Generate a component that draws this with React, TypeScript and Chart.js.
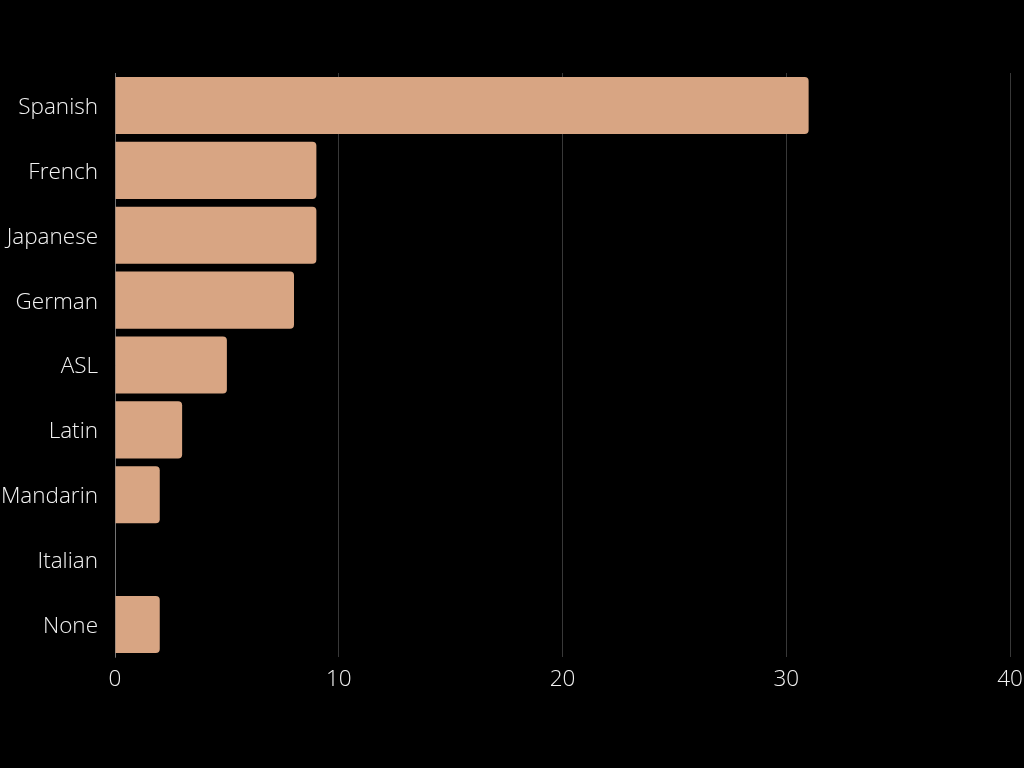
import React, { useEffect, useRef } from "react";
import { Chart, registerables } from "chart.js";

Chart.register(...registerables);

const categories = ["Spanish", "French", "Japanese", "German", "ASL", "Latin", "Mandarin", "Italian", "None"];
const counts = [31, 9, 9, 8, 5, 3, 2, 0, 2];
const xTicks = [0, 10, 20, 30, 40];

export default function App() {
  const ref = useRef<HTMLCanvasElement | null>(null);
  useEffect(() => {
    document.body.style.margin = "0";
    document.body.style.background = "#000";
    const ctx = ref.current!.getContext("2d")!;
    const font = { family: "'Open Sans'", size: 22.5, weight: 300 as any };
    const zeroPad = (s: any) => {
      s.paddingLeft = 0;
      s.paddingRight = 0;
      s.paddingTop = 0;
      s.paddingBottom = 0;
    };
    const chart = new Chart(ctx, {
      type: "bar",
      data: {
        labels: categories,
        datasets: [
          {
            data: counts,
            backgroundColor: "#D8A583",
            borderRadius: 4,
            borderSkipped: "start",
            barPercentage: 0.88,
            categoryPercentage: 1,
          },
        ],
      },
      options: {
        indexAxis: "y",
        animation: false,
        responsive: false,
        maintainAspectRatio: false,
        layout: { padding: { top: 73, right: 14, bottom: 0, left: 0 } },
        plugins: { legend: { display: false }, tooltip: { enabled: false } },
        scales: {
          x: {
            min: 0,
            max: 40,
            afterBuildTicks: (s: any) => {
              s.ticks = xTicks.map((v) => ({ value: v }));
            },
            afterFit: (s: any) => {
              s.height = 111;
              zeroPad(s);
            },
            grid: { color: "rgba(255,255,255,0.22)", drawTicks: false, lineWidth: 1 },
            border: { display: false },
            ticks: { color: "#f2f2f2", font, padding: 9, maxRotation: 0 },
          },
          y: {
            afterFit: (s: any) => {
              s.width = 115;
              zeroPad(s);
            },
            grid: { display: false, drawTicks: false },
            border: { display: true, color: "rgba(255,255,255,0.3)" },
            ticks: { color: "#f2f2f2", font, padding: 17, labelOffset: 2 },
          },
        },
      },
    });
    return () => chart.destroy();
  }, []);
  return (
    <div style={{ position: "fixed", left: 0, top: 0, width: 1024, height: 768, background: "#000" }}>
      <canvas ref={ref} width={1024} height={768} style={{ display: "block" }} />
    </div>
  );
}
